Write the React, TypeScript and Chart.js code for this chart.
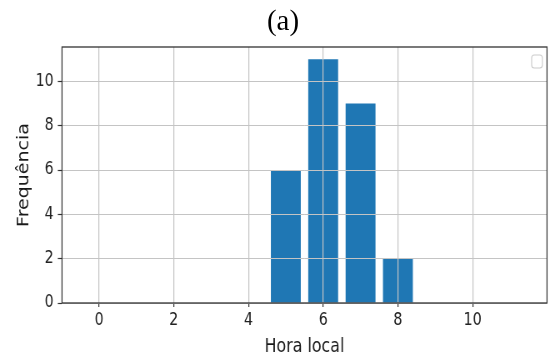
import React, { useEffect, useRef } from "react";
import { Chart, registerables } from "chart.js";

Chart.register(...registerables);

// ---- data ----
const hours = [0, 1, 2, 3, 4, 5, 6, 7, 8, 9, 10, 11];
const counts = [0, 0, 0, 0, 0, 6, 11, 9, 2, 0, 0, 0];
const xTicks = [0, 2, 4, 6, 8, 10];
const yTicks = [0, 2, 4, 6, 8, 10];
const xLimits = [-0.99, 11.99];
const yLimits = [0, 11.55];
const titleText = "(a)";
const xLabel = "Hora local";
const yLabel = "Frequência";

// ---- layout ----
const W = 550;
const H = 353;
const SX = 1.2; // canvas drawn wider, then squeezed horizontally (as in the reference)
const CW = Math.round(W * SX);
const FONT = '"DejaVu Sans", sans-serif';

const decorPlugin = {
  id: "decor",
  afterDraw(chart: any) {
    const { ctx, chartArea: a } = chart;
    ctx.save();
    ctx.fillStyle = "#1a1a1a";
    ctx.font = `19px ${FONT}`;
    ctx.textAlign = "center";
    ctx.textBaseline = "alphabetic";
    ctx.fillText(xLabel, (a.left + a.right) / 2, a.bottom + 48.7);
    ctx.translate(a.left - 40.8, (a.top + a.bottom) / 2);
    ctx.rotate(-Math.PI / 2);
    ctx.fillText(yLabel, 0, 0);
    ctx.restore();

    ctx.save();
    ctx.strokeStyle = "#333";
    ctx.lineWidth = 1.3;
    ctx.strokeRect(a.left, a.top, a.right - a.left, a.bottom - a.top);
    // empty legend frame
    ctx.strokeStyle = "#cccccc";
    ctx.lineWidth = 1.2;
    ctx.fillStyle = "rgba(255,255,255,0.8)";
    ctx.beginPath();
    ctx.roundRect(a.right - 18.4, a.top + 8, 12.8, 13, 3);
    ctx.fill();
    ctx.stroke();
    ctx.restore();
  },
};

export default function App() {
  const ref = useRef<HTMLCanvasElement | null>(null);

  useEffect(() => {
    if (!ref.current) return;
    const chart = new Chart(ref.current, {
      type: "bar",
      data: {
        datasets: [
          {
            data: hours.map((h, i) => ({ x: h, y: counts[i] })),
            backgroundColor: "#1f77b4",
            borderWidth: 0,
            categoryPercentage: 0.8,
            barPercentage: 1.0,
          },
        ],
      },
      options: {
        responsive: false,
        animation: false,
        devicePixelRatio: 1,
        layout: { padding: { left: 0, right: CW - 547 * SX, top: 47, bottom: 0 } },
        plugins: {
          legend: { display: false },
          tooltip: { enabled: false },
          title: { display: false },
        },
        scales: {
          x: {
            type: "linear",
            min: xLimits[0],
            max: xLimits[1],
            offset: false,
            grid: {
              z: 1,
              color: "#c4c4c4",
              lineWidth: 1.2,
              tickColor: "#333",
              tickWidth: 1.2,
              tickLength: 4,
              offset: false,
            },
            border: { display: false },
            ticks: {
              font: { family: FONT, size: 17 },
              color: "#222",
              padding: 3,
              maxRotation: 0,
              autoSkip: false,
            },
            afterBuildTicks: (s: any) => {
              s.ticks = xTicks.map((v) => ({ value: v }));
            },
            afterFit: (s: any) => {
              s.height = H - 303;
            },
          },
          y: {
            type: "linear",
            min: yLimits[0],
            max: yLimits[1],
            grid: {
              z: 1,
              color: "#c4c4c4",
              lineWidth: 1,
              tickColor: "#333",
              tickWidth: 1.2,
              tickLength: 5,
            },
            border: { display: false },
            ticks: {
              font: { family: FONT, size: 17 },
              color: "#222",
              padding: 5,
              autoSkip: false,
            },
            afterBuildTicks: (s: any) => {
              s.ticks = yTicks.map((v) => ({ value: v }));
            },
            afterFit: (s: any) => {
              s.width = 62 * SX;
            },
          },
        },
      },
      plugins: [decorPlugin],
    } as any);
    return () => chart.destroy();
  }, []);

  return (
    <div
      style={{
        position: "fixed",
        left: 0,
        top: 0,
        width: W,
        height: H,
        background: "#fff",
        overflow: "hidden",
      }}
    >
      <canvas
        ref={ref}
        width={CW}
        height={H}
        style={{ position: "absolute", left: 0, top: 0, width: `${W}px`, height: `${H}px` }}
      />
      <div
        style={{
          position: "absolute",
          left: 233,
          top: 5.7,
          width: 100,
          textAlign: "center",
          fontFamily: '"Liberation Serif", "Times New Roman", serif',
          fontSize: 29,
          lineHeight: "29px",
          color: "#000",
        }}
      >
        {titleText}
      </div>
    </div>
  );
}
